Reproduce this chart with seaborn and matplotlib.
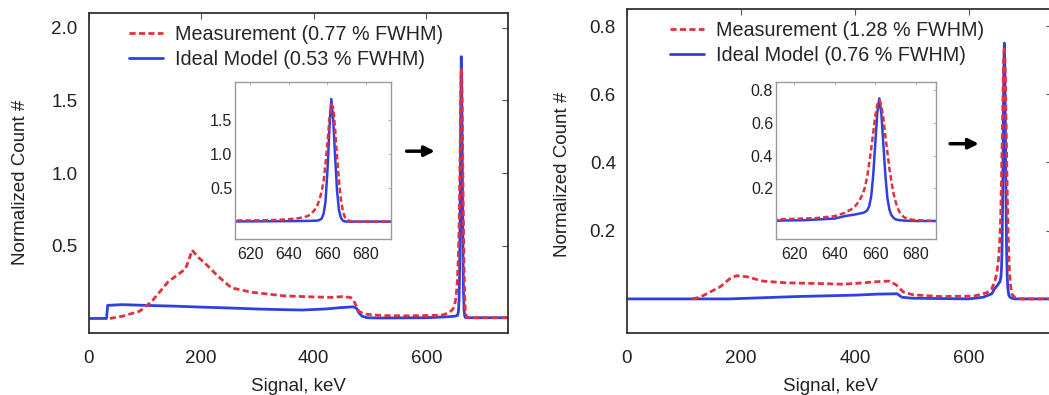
import numpy as np
import pandas as pd
import matplotlib
matplotlib.use("Agg")
import matplotlib.pyplot as plt
import seaborn as sns
from matplotlib.lines import Line2D

sns.set_theme(style="white")
plt.rcParams["font.family"] = ["Liberation Sans", "DejaVu Sans"]

# ---------------- data ----------------
left_meas_keV = [38, 60, 91, 113, 141, 165, 172, 178, 184, 195,
                 207, 230, 254, 290, 348, 400, 432, 451, 465, 470,
                 475, 480, 490, 520, 560, 600, 620, 630, 640, 645,
                 648, 650, 652, 654, 655, 656, 657, 658, 659, 660,
                 661, 662, 663, 664, 665, 666, 667, 668, 669, 670,
                 672, 675, 700, 745]
left_meas_cnt = [0.0, 0.015, 0.05, 0.12, 0.25, 0.32, 0.34, 0.40, 0.47, 0.42,
                 0.38, 0.29, 0.21, 0.18, 0.155, 0.148, 0.145, 0.15, 0.145, 0.13,
                 0.09, 0.05, 0.03, 0.02, 0.018, 0.02, 0.022, 0.025, 0.04, 0.055,
                 0.07, 0.09, 0.13, 0.2, 0.26, 0.34, 0.45, 0.6, 0.85, 1.15,
                 1.5, 1.72, 1.68, 1.35, 0.95, 0.6, 0.33, 0.16, 0.07, 0.03,
                 0.01, 0.005, 0.005, 0.005]

left_model_keV = [0, 32, 34, 60, 100, 150, 200, 250, 300, 350,
                  380, 420, 450, 470, 476, 480, 486, 495, 520, 600,
                  630, 640, 650, 655, 656, 657, 658, 659, 660, 661,
                  662, 663, 664, 665, 666, 667, 668, 669, 670, 680,
                  745]
left_model_cnt = [0.0, 0.0, 0.09, 0.095, 0.09, 0.085, 0.078, 0.072, 0.065, 0.06,
                  0.058, 0.065, 0.075, 0.08, 0.07, 0.04, 0.015, 0.005, 0.003, 0.005,
                  0.01, 0.012, 0.015, 0.02, 0.03, 0.05, 0.12, 0.3, 0.75, 1.35,
                  1.8, 1.5, 0.95, 0.45, 0.17, 0.06, 0.02, 0.008, 0.005, 0.005,
                  0.005]

right_meas_keV = [115, 128, 140, 163, 181, 192, 210, 239, 280, 339,
                  380, 421, 432, 461, 473, 485, 502, 549, 608, 631,
                  640, 645, 648, 650, 652, 654, 655, 656, 657, 658,
                  659, 660, 661, 662, 663, 664, 665, 666, 667, 668,
                  669, 670, 671, 672, 674, 676, 680, 690, 745]
right_meas_cnt = [0.0, 0.005, 0.015, 0.035, 0.06, 0.068, 0.065, 0.052, 0.047, 0.045,
                  0.043, 0.048, 0.05, 0.052, 0.04, 0.02, 0.012, 0.007, 0.008, 0.018,
                  0.03, 0.05, 0.07, 0.09, 0.12, 0.17, 0.21, 0.27, 0.35, 0.44,
                  0.54, 0.64, 0.71, 0.74, 0.71, 0.63, 0.52, 0.42, 0.32, 0.24,
                  0.17, 0.12, 0.08, 0.055, 0.025, 0.012, 0.005, 0.0, 0.0]

right_model_keV = [0, 180, 300, 400, 440, 474, 482, 500, 600,
                   625, 640, 645, 650, 652, 654, 655, 656, 657, 658,
                   659, 660, 661, 662, 663, 664, 665, 666, 667, 668,
                   669, 670, 672, 675, 680, 745]
right_model_cnt = [0.0, 0.0, 0.007, 0.011, 0.014, 0.015, 0.005, 0.002, 0.0,
                   0.005, 0.015, 0.03, 0.04, 0.045, 0.05, 0.055, 0.065, 0.09, 0.15,
                   0.28, 0.47, 0.66, 0.75, 0.66, 0.47, 0.28, 0.14, 0.07, 0.035,
                   0.02, 0.01, 0.005, 0.002, 0.0, 0.0]

left_labels = ["Measurement (0.77 % FWHM)", "Ideal Model (0.53 % FWHM)"]
right_labels = ["Measurement (1.28 % FWHM)", "Ideal Model (0.76 % FWHM)"]

x_ticks = [0, 200, 400, 600]
left_y_ticks = [0.5, 1.0, 1.5, 2.0]
right_y_ticks = [0.2, 0.4, 0.6, 0.8]
inset_x_ticks = [620, 640, 660, 680]
left_inset_y_ticks = [0.5, 1.0, 1.5]
right_inset_y_ticks = [0.2, 0.4, 0.6, 0.8]
x_label = "Signal, keV"
y_label = "Normalized Count #"

# ---------------- styling ----------------
RED = "#e3303c"
BLUE = "#3040e0"
DASH = (0, (2.2, 1.2))
W, H = 1049, 395
fig = plt.figure(figsize=(W / 100, H / 100), dpi=100)


def fx(px):
    return px / W


def fy(py):
    return 1 - py / H


def draw(ax, mk, mc, ik, ic, lw=2.0):
    sns.lineplot(x=ik, y=ic, ax=ax, color=BLUE, lw=lw, sort=False, estimator=None)
    sns.lineplot(x=mk, y=mc, ax=ax, color=RED, lw=lw, linestyle=DASH,
                 sort=False, estimator=None)
    ax.set_xlabel("")
    ax.set_ylabel("")


def style_main(ax):
    for s in ax.spines.values():
        s.set_color("#333333")
        s.set_linewidth(1.3)
    ax.tick_params(direction="in", length=4, width=0.8, colors="#555555",
                   labelcolor="#222222", labelsize=13.5, top=True, right=True)
    ax.tick_params(axis="x", pad=12)
    ax.tick_params(axis="y", pad=8)


def style_inset(ax):
    for s in ax.spines.values():
        s.set_color("#999999")
        s.set_linewidth(1.0)
    ax.tick_params(direction="in", length=2.5, width=0.6, colors="#aaaaaa",
                   labelcolor="#222222", labelsize=11.5, top=True, right=True)
    ax.tick_params(axis="x", pad=6)
    ax.tick_params(axis="y", pad=2)


def legend(ax, labels, x0, y0):
    h = [Line2D([], [], color=RED, lw=2, linestyle=DASH),
         Line2D([], [], color=BLUE, lw=2)]
    ax.legend(h, labels, loc="upper left", bbox_to_anchor=(fx(x0), fy(y0)),
              bbox_transform=fig.transFigure, frameon=False, fontsize=14.2,
              handlelength=1.7, handletextpad=0.65, labelspacing=0.3,
              borderpad=0, borderaxespad=0)


# ---------------- left panel ----------------
axL = fig.add_axes([fx(88.5), fy(333), fx(508 - 88.5), (333 - 13) / H])
draw(axL, left_meas_keV, left_meas_cnt, left_model_keV, left_model_cnt)
axL.set_xlim(0, 745)
axL.set_ylim(-0.1, 2.1)
axL.set_xticks(x_ticks)
axL.set_yticks(left_y_ticks)
axL.set_yticklabels([f"{v:.1f}" for v in left_y_ticks])
style_main(axL)
axL.set_xlabel(x_label, fontsize=13.5, color="#222222")
axL.set_ylabel(y_label, fontsize=13.5, color="#222222")
axL.xaxis.set_label_coords(0.5, -0.14)
axL.yaxis.set_label_coords(-0.142, 0.47)
legend(axL, left_labels, 129, 25)
axL.annotate("", xy=(620, 1.15), xytext=(560, 1.15),
             arrowprops=dict(arrowstyle="-|>,head_length=0.5,head_width=0.25",
                             color="black", lw=2.5))

# ---------------- right panel ----------------
axR = fig.add_axes([fx(627), fy(333), 0.57 * 745 / W, (333 - 9) / H])
draw(axR, right_meas_keV, right_meas_cnt, right_model_keV, right_model_cnt)
axR.set_xlim(0, 745)
axR.set_ylim(-0.1, 0.85)
axR.set_xticks(x_ticks)
axR.set_yticks(right_y_ticks)
axR.set_yticklabels([f"{v:.1f}" for v in right_y_ticks])
style_main(axR)
axR.set_xlabel(x_label, fontsize=13.5, color="#222222")
axR.set_ylabel(y_label, fontsize=13.5, color="#222222")
axR.xaxis.set_label_coords(0.48, -0.14)
axR.yaxis.set_label_coords(-0.132, 0.49)
legend(axR, right_labels, 670, 21)
axR.annotate("", xy=(622, 0.455), xytext=(562, 0.455),
             arrowprops=dict(arrowstyle="-|>,head_length=0.5,head_width=0.25",
                             color="black", lw=2.5))

# ---------------- insets ----------------
inL = fig.add_axes([fx(235), fy(239), 156 / W, 157 / H])
draw(inL, left_meas_keV, left_meas_cnt, left_model_keV, left_model_cnt, lw=1.8)
inL.set_xlim(612, 693)
inL.set_ylim(-0.25, 2.05)
inL.set_xticks(inset_x_ticks)
inL.set_yticks(left_inset_y_ticks)
inL.set_yticklabels([f"{v:.1f}" for v in left_inset_y_ticks])
style_inset(inL)

inR = fig.add_axes([fx(776), fy(239), 160 / W, 157 / H])
draw(inR, right_meas_keV, right_meas_cnt, right_model_keV, right_model_cnt, lw=1.8)
inR.set_xlim(611, 690)
inR.set_ylim(-0.11, 0.85)
inR.set_xticks(inset_x_ticks)
inR.set_yticks(right_inset_y_ticks)
inR.set_yticklabels([f"{v:.1f}" for v in right_inset_y_ticks])
style_inset(inR)

fig.savefig("out.png", dpi=100)
